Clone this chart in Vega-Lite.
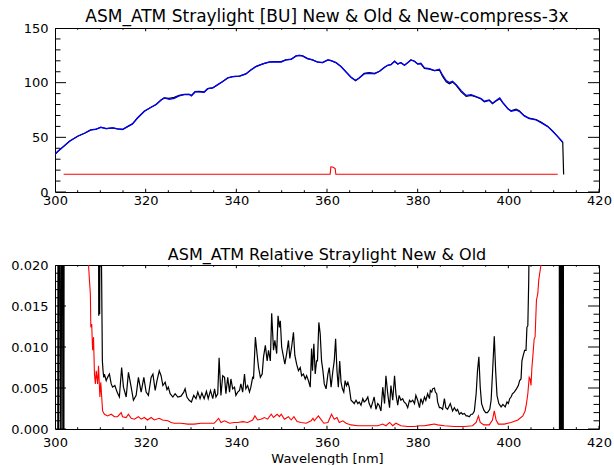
{
 "$schema": "https://vega.github.io/schema/vega-lite/v6.json",
 "background": "white",
 "padding": {"left": 10, "top": 7, "right": 5, "bottom": 0},
 "bounds": "flush",
 "spacing": 73,
 "config": {
  "view": {"stroke": "#000", "strokeWidth": 1},
  "font": "DejaVu Sans",
  "title": {"font": "DejaVu Sans", "fontSize": 16, "fontWeight": "normal", "color": "#000", "offset": -3.7},
  "axis": {"domain": false, "grid": false, "ticks": false, "tickSize": 0, "labelFont": "DejaVu Sans", "labelFontSize": 13, "labelColor": "#000", "labelOverlap": false, "labelFlush": false, "labelBound": false, "titleFont": "DejaVu Sans", "titleFontSize": 13, "titleFontWeight": "normal", "titleColor": "#000"}
 },
 "datasets": {
  "topTicks": [
   {"k":"xmaj","wl":300,"v":0},{"k":"xmaj","wl":320,"v":0},{"k":"xmaj","wl":340,"v":0},{"k":"xmaj","wl":360,"v":0},{"k":"xmaj","wl":380,"v":0},{"k":"xmaj","wl":400,"v":0},{"k":"xmaj","wl":420,"v":0},
   {"k":"xmaj","wl":300,"v":150},{"k":"xmaj","wl":320,"v":150},{"k":"xmaj","wl":340,"v":150},{"k":"xmaj","wl":360,"v":150},{"k":"xmaj","wl":380,"v":150},{"k":"xmaj","wl":400,"v":150},{"k":"xmaj","wl":420,"v":150},
   {"k":"xmin","wl":305,"v":0},{"k":"xmin","wl":310,"v":0},{"k":"xmin","wl":315,"v":0},{"k":"xmin","wl":325,"v":0},{"k":"xmin","wl":330,"v":0},{"k":"xmin","wl":335,"v":0},{"k":"xmin","wl":345,"v":0},{"k":"xmin","wl":350,"v":0},{"k":"xmin","wl":355,"v":0},{"k":"xmin","wl":365,"v":0},{"k":"xmin","wl":370,"v":0},{"k":"xmin","wl":375,"v":0},{"k":"xmin","wl":385,"v":0},{"k":"xmin","wl":390,"v":0},{"k":"xmin","wl":395,"v":0},{"k":"xmin","wl":405,"v":0},{"k":"xmin","wl":410,"v":0},{"k":"xmin","wl":415,"v":0},
   {"k":"xmin","wl":305,"v":150},{"k":"xmin","wl":310,"v":150},{"k":"xmin","wl":315,"v":150},{"k":"xmin","wl":325,"v":150},{"k":"xmin","wl":330,"v":150},{"k":"xmin","wl":335,"v":150},{"k":"xmin","wl":345,"v":150},{"k":"xmin","wl":350,"v":150},{"k":"xmin","wl":355,"v":150},{"k":"xmin","wl":365,"v":150},{"k":"xmin","wl":370,"v":150},{"k":"xmin","wl":375,"v":150},{"k":"xmin","wl":385,"v":150},{"k":"xmin","wl":390,"v":150},{"k":"xmin","wl":395,"v":150},{"k":"xmin","wl":405,"v":150},{"k":"xmin","wl":410,"v":150},{"k":"xmin","wl":415,"v":150},
   {"k":"ymaj","wl":300,"v":0},{"k":"ymaj","wl":300,"v":50},{"k":"ymaj","wl":300,"v":100},{"k":"ymaj","wl":300,"v":150},
   {"k":"ymaj","wl":420,"v":0},{"k":"ymaj","wl":420,"v":50},{"k":"ymaj","wl":420,"v":100},{"k":"ymaj","wl":420,"v":150},
   {"k":"ymin","wl":300,"v":10},{"k":"ymin","wl":300,"v":20},{"k":"ymin","wl":300,"v":30},{"k":"ymin","wl":300,"v":40},{"k":"ymin","wl":300,"v":60},{"k":"ymin","wl":300,"v":70},{"k":"ymin","wl":300,"v":80},{"k":"ymin","wl":300,"v":90},{"k":"ymin","wl":300,"v":110},{"k":"ymin","wl":300,"v":120},{"k":"ymin","wl":300,"v":130},{"k":"ymin","wl":300,"v":140},
   {"k":"ymin","wl":420,"v":10},{"k":"ymin","wl":420,"v":20},{"k":"ymin","wl":420,"v":30},{"k":"ymin","wl":420,"v":40},{"k":"ymin","wl":420,"v":60},{"k":"ymin","wl":420,"v":70},{"k":"ymin","wl":420,"v":80},{"k":"ymin","wl":420,"v":90},{"k":"ymin","wl":420,"v":110},{"k":"ymin","wl":420,"v":120},{"k":"ymin","wl":420,"v":130},{"k":"ymin","wl":420,"v":140}
  ],
  "botTicks": [
   {"k":"xmaj","wl":300,"v":0},{"k":"xmaj","wl":320,"v":0},{"k":"xmaj","wl":340,"v":0},{"k":"xmaj","wl":360,"v":0},{"k":"xmaj","wl":380,"v":0},{"k":"xmaj","wl":400,"v":0},{"k":"xmaj","wl":420,"v":0},
   {"k":"xmaj","wl":300,"v":0.02},{"k":"xmaj","wl":320,"v":0.02},{"k":"xmaj","wl":340,"v":0.02},{"k":"xmaj","wl":360,"v":0.02},{"k":"xmaj","wl":380,"v":0.02},{"k":"xmaj","wl":400,"v":0.02},{"k":"xmaj","wl":420,"v":0.02},
   {"k":"xmin","wl":305,"v":0},{"k":"xmin","wl":310,"v":0},{"k":"xmin","wl":315,"v":0},{"k":"xmin","wl":325,"v":0},{"k":"xmin","wl":330,"v":0},{"k":"xmin","wl":335,"v":0},{"k":"xmin","wl":345,"v":0},{"k":"xmin","wl":350,"v":0},{"k":"xmin","wl":355,"v":0},{"k":"xmin","wl":365,"v":0},{"k":"xmin","wl":370,"v":0},{"k":"xmin","wl":375,"v":0},{"k":"xmin","wl":385,"v":0},{"k":"xmin","wl":390,"v":0},{"k":"xmin","wl":395,"v":0},{"k":"xmin","wl":405,"v":0},{"k":"xmin","wl":410,"v":0},{"k":"xmin","wl":415,"v":0},
   {"k":"xmin","wl":305,"v":0.02},{"k":"xmin","wl":310,"v":0.02},{"k":"xmin","wl":315,"v":0.02},{"k":"xmin","wl":325,"v":0.02},{"k":"xmin","wl":330,"v":0.02},{"k":"xmin","wl":335,"v":0.02},{"k":"xmin","wl":345,"v":0.02},{"k":"xmin","wl":350,"v":0.02},{"k":"xmin","wl":355,"v":0.02},{"k":"xmin","wl":365,"v":0.02},{"k":"xmin","wl":370,"v":0.02},{"k":"xmin","wl":375,"v":0.02},{"k":"xmin","wl":385,"v":0.02},{"k":"xmin","wl":390,"v":0.02},{"k":"xmin","wl":395,"v":0.02},{"k":"xmin","wl":405,"v":0.02},{"k":"xmin","wl":410,"v":0.02},{"k":"xmin","wl":415,"v":0.02},
   {"k":"ymaj","wl":300,"v":0},{"k":"ymaj","wl":300,"v":0.005},{"k":"ymaj","wl":300,"v":0.01},{"k":"ymaj","wl":300,"v":0.015},{"k":"ymaj","wl":300,"v":0.02},
   {"k":"ymaj","wl":420,"v":0},{"k":"ymaj","wl":420,"v":0.005},{"k":"ymaj","wl":420,"v":0.01},{"k":"ymaj","wl":420,"v":0.015},{"k":"ymaj","wl":420,"v":0.02},
   {"k":"ymin","wl":300,"v":0.001},{"k":"ymin","wl":300,"v":0.002},{"k":"ymin","wl":300,"v":0.003},{"k":"ymin","wl":300,"v":0.004},{"k":"ymin","wl":300,"v":0.006},{"k":"ymin","wl":300,"v":0.007},{"k":"ymin","wl":300,"v":0.008},{"k":"ymin","wl":300,"v":0.009},{"k":"ymin","wl":300,"v":0.011},{"k":"ymin","wl":300,"v":0.012},{"k":"ymin","wl":300,"v":0.013},{"k":"ymin","wl":300,"v":0.014},{"k":"ymin","wl":300,"v":0.016},{"k":"ymin","wl":300,"v":0.017},{"k":"ymin","wl":300,"v":0.018},{"k":"ymin","wl":300,"v":0.019},
   {"k":"ymin","wl":420,"v":0.001},{"k":"ymin","wl":420,"v":0.002},{"k":"ymin","wl":420,"v":0.003},{"k":"ymin","wl":420,"v":0.004},{"k":"ymin","wl":420,"v":0.006},{"k":"ymin","wl":420,"v":0.007},{"k":"ymin","wl":420,"v":0.008},{"k":"ymin","wl":420,"v":0.009},{"k":"ymin","wl":420,"v":0.011},{"k":"ymin","wl":420,"v":0.012},{"k":"ymin","wl":420,"v":0.013},{"k":"ymin","wl":420,"v":0.014},{"k":"ymin","wl":420,"v":0.016},{"k":"ymin","wl":420,"v":0.017},{"k":"ymin","wl":420,"v":0.018},{"k":"ymin","wl":420,"v":0.019}
  ],
  "topBlue": [
   {"wl":300,"v":34.5},{"wl":300.6,"v":37},{"wl":301.7,"v":41},{"wl":303.2,"v":46.4},{"wl":305,"v":51},{"wl":306.5,"v":53.7},{"wl":307.9,"v":56.8},{"wl":309,"v":57.4},{"wl":310.1,"v":59.2},{"wl":311.3,"v":58},{"wl":312.7,"v":58.6},{"wl":313.8,"v":57.7},{"wl":314.9,"v":57.2},{"wl":316,"v":59.8},{"wl":317.1,"v":62.3},{"wl":318.2,"v":67.7},{"wl":319.7,"v":73.8},{"wl":321.2,"v":77.5},{"wl":322.3,"v":80},{"wl":323.4,"v":84.2},{"wl":324.1,"v":86},{"wl":325.2,"v":84.8},{"wl":326.3,"v":85.6},{"wl":327.4,"v":87.9},{"wl":328.5,"v":89},{"wl":329.6,"v":89.2},{"wl":330.1,"v":87.9},{"wl":330.9,"v":91.5},{"wl":331.8,"v":91.5},{"wl":332.9,"v":91.2},{"wl":333.7,"v":94.5},{"wl":334.8,"v":95.2},{"wl":335.9,"v":98.2},{"wl":337,"v":101},{"wl":338.1,"v":104.3},{"wl":339.2,"v":105.5},{"wl":340.7,"v":106},{"wl":342.1,"v":108},{"wl":343.2,"v":111.6},{"wl":344.3,"v":114.7},{"wl":345.4,"v":116.5},{"wl":346.2,"v":117.7},{"wl":347.3,"v":118.9},{"wl":348.4,"v":118.9},{"wl":349.9,"v":118.9},{"wl":350.9,"v":120.8},{"wl":352.1,"v":121.4},{"wl":353.2,"v":124.5},{"wl":353.9,"v":125},{"wl":354.6,"v":124.5},{"wl":355.7,"v":122},{"wl":356.8,"v":120.8},{"wl":357.9,"v":118.9},{"wl":359,"v":118.3},{"wl":360.2,"v":120.8},{"wl":360.9,"v":120.2},{"wl":362,"v":118.3},{"wl":363.1,"v":114.7},{"wl":364.2,"v":109.8},{"wl":365.3,"v":104.9},{"wl":366.3,"v":101.9},{"wl":367.1,"v":104.3},{"wl":368.2,"v":108},{"wl":369.3,"v":108.6},{"wl":370.5,"v":108},{"wl":371.6,"v":110.4},{"wl":372.7,"v":114.1},{"wl":373.4,"v":115.9},{"wl":374.1,"v":116.5},{"wl":374.9,"v":119.6},{"wl":375.6,"v":117.1},{"wl":376.3,"v":118.3},{"wl":377.1,"v":115.9},{"wl":377.8,"v":118.3},{"wl":378.5,"v":120.8},{"wl":379.3,"v":119.6},{"wl":380,"v":117.1},{"wl":380.7,"v":117.7},{"wl":381.5,"v":113.5},{"wl":382.6,"v":112.9},{"wl":383.7,"v":111},{"wl":384.8,"v":112.3},{"wl":385.5,"v":106.8},{"wl":386.3,"v":101.9},{"wl":387,"v":100},{"wl":387.7,"v":101.2},{"wl":388.5,"v":98.2},{"wl":389.6,"v":92.7},{"wl":390.7,"v":88.4},{"wl":391.8,"v":89},{"wl":392.9,"v":87.3},{"wl":394,"v":85.4},{"wl":394.7,"v":83},{"wl":395.8,"v":84.2},{"wl":396.5,"v":81.2},{"wl":397.3,"v":83.6},{"wl":398.1,"v":86},{"wl":398.8,"v":81.8},{"wl":399.9,"v":76.3},{"wl":400.6,"v":73.8},{"wl":401.7,"v":75},{"wl":402.4,"v":73.8},{"wl":403.5,"v":69.6},{"wl":404.6,"v":67.1},{"wl":406.1,"v":65.9},{"wl":407.2,"v":63.5},{"wl":408.7,"v":59.8},{"wl":409.8,"v":55.5},{"wl":410.9,"v":50.7},{"wl":412,"v":45.5}
  ],
  "topBlack": [
   {"wl":300,"v":34.5},{"wl":300.6,"v":37},{"wl":301.7,"v":41},{"wl":303.2,"v":46.4},{"wl":305,"v":51},{"wl":306.5,"v":53.7},{"wl":307.9,"v":56.8},{"wl":309,"v":57.4},{"wl":310.1,"v":59.2},{"wl":311.3,"v":58},{"wl":312.7,"v":58.6},{"wl":313.8,"v":57.7},{"wl":314.9,"v":57.2},{"wl":316,"v":59.8},{"wl":317.1,"v":62.3},{"wl":318.2,"v":67.7},{"wl":319.7,"v":73.8},{"wl":321.2,"v":77.5},{"wl":322.3,"v":80},{"wl":323.4,"v":84.2},{"wl":324.1,"v":86},{"wl":325.2,"v":85.6},{"wl":326.3,"v":86.5},{"wl":327.4,"v":88.4},{"wl":328.5,"v":89.3},{"wl":329.6,"v":89.4},{"wl":330.1,"v":88.3},{"wl":330.9,"v":91.8},{"wl":331.8,"v":92},{"wl":332.9,"v":91.6},{"wl":333.7,"v":94.5},{"wl":334.8,"v":95.2},{"wl":335.9,"v":98.2},{"wl":337,"v":101},{"wl":338.1,"v":104.3},{"wl":339.2,"v":105.5},{"wl":340.7,"v":106},{"wl":342.1,"v":108},{"wl":343.2,"v":111.6},{"wl":344.3,"v":114.7},{"wl":345.4,"v":116.5},{"wl":346.2,"v":117.7},{"wl":347.3,"v":118.9},{"wl":348.4,"v":119.2},{"wl":349.9,"v":119.2},{"wl":350.9,"v":120.8},{"wl":352.1,"v":121.4},{"wl":353.2,"v":124.5},{"wl":353.9,"v":125},{"wl":354.6,"v":124.5},{"wl":355.7,"v":122},{"wl":356.8,"v":120.8},{"wl":357.9,"v":118.9},{"wl":359,"v":118.3},{"wl":360.2,"v":120.8},{"wl":360.9,"v":120.2},{"wl":362,"v":118.3},{"wl":363.1,"v":114.7},{"wl":364.2,"v":109.8},{"wl":365.3,"v":104.9},{"wl":366.3,"v":101.9},{"wl":367.1,"v":104.3},{"wl":368.2,"v":108.5},{"wl":369.3,"v":109.2},{"wl":370.5,"v":108.5},{"wl":371.6,"v":110.4},{"wl":372.7,"v":114.1},{"wl":373.4,"v":115.9},{"wl":374.1,"v":116.5},{"wl":374.9,"v":119.6},{"wl":375.6,"v":117.1},{"wl":376.3,"v":118.3},{"wl":377.1,"v":115.9},{"wl":377.8,"v":118.3},{"wl":378.5,"v":120.8},{"wl":379.3,"v":119.6},{"wl":380,"v":117.1},{"wl":380.7,"v":117.2},{"wl":381.5,"v":113},{"wl":382.6,"v":112.4},{"wl":383.7,"v":111},{"wl":384.8,"v":111.5},{"wl":385.5,"v":105.8},{"wl":386.3,"v":100.8},{"wl":387,"v":99},{"wl":387.7,"v":100.5},{"wl":388.5,"v":97.5},{"wl":389.6,"v":91.5},{"wl":390.7,"v":87.5},{"wl":391.8,"v":88.4},{"wl":392.9,"v":86.9},{"wl":394,"v":85},{"wl":394.7,"v":82.4},{"wl":395.8,"v":83.8},{"wl":396.5,"v":80.8},{"wl":397.3,"v":83.2},{"wl":398.1,"v":85.4},{"wl":398.8,"v":81.5},{"wl":399.9,"v":76},{"wl":400.6,"v":74.2},{"wl":401.7,"v":75.8},{"wl":402.4,"v":74.4},{"wl":403.5,"v":69.9},{"wl":404.6,"v":67.5},{"wl":406.1,"v":66.3},{"wl":407.2,"v":64},{"wl":408.7,"v":60},{"wl":409.8,"v":55.5},{"wl":410.9,"v":50.7},{"wl":412,"v":45.5},{"wl":412.2,"v":16}
  ],
  "topRed": [
   {"wl":301.9,"v":16.2},{"wl":360.7,"v":16.2},{"wl":360.85,"v":23},{"wl":361.2,"v":22.8},{"wl":361.6,"v":22},{"wl":361.8,"v":21.5},{"wl":361.95,"v":16.2},{"wl":410.9,"v":16.2}
  ],
  "botBlack": [
   {"wl":300.6,"v":-0.01},{"wl":300.7,"v":0.05},{"wl":300.8,"v":-0.01},{"wl":301.0,"v":0.05},{"wl":301.3,"v":-0.01},{"wl":301.6,"v":0.05},{"wl":301.75,"v":-0.01},{"wl":301.85,"v":0.05},{"wl":301.95,"v":-0.01},{"wl":302.05,"v":0.05},{"wl":309.5,"v":0.05},{"wl":309.65,"v":0.0138},{"wl":309.75,"v":0.03},{"wl":309.85,"v":0.014},{"wl":309.95,"v":0.03},{"wl":310.1,"v":0.03},{"wl":310.45,"v":0.0083},{"wl":310.6,"v":0.0071},{"wl":310.75,"v":0.0063},{"wl":310.9,"v":0.0067},{"wl":311.3,"v":0.0059},{"wl":311.6,"v":0.0063},{"wl":312.0,"v":0.0067},{"wl":312.4,"v":0.0055},{"wl":312.7,"v":0.0051},{"wl":313.2,"v":0.0053},{"wl":313.7,"v":0.0045},{"wl":314.2,"v":0.0039},{"wl":314.7,"v":0.0075},{"wl":315.1,"v":0.0051},{"wl":315.7,"v":0.0039},{"wl":316.2,"v":0.0069},{"wl":316.8,"v":0.0051},{"wl":317.3,"v":0.0035},{"wl":317.9,"v":0.0041},{"wl":318.4,"v":0.0063},{"wl":319.0,"v":0.0045},{"wl":319.6,"v":0.0063},{"wl":320.1,"v":0.0045},{"wl":320.6,"v":0.0041},{"wl":321.2,"v":0.0063},{"wl":321.6,"v":0.0067},{"wl":322.1,"v":0.0047},{"wl":322.5,"v":0.0059},{"wl":323.0,"v":0.0071},{"wl":323.4,"v":0.0065},{"wl":323.8,"v":0.0053},{"wl":324.3,"v":0.0057},{"wl":324.7,"v":0.0048},{"wl":325.0,"v":0.0051},{"wl":325.4,"v":0.0043},{"wl":326.0,"v":0.0039},{"wl":326.5,"v":0.0043},{"wl":327.1,"v":0.0039},{"wl":327.8,"v":0.004},{"wl":328.4,"v":0.0045},{"wl":328.7,"v":0.0049},{"wl":329.1,"v":0.0039},{"wl":329.6,"v":0.0035},{"wl":330.1,"v":0.0033},{"wl":330.6,"v":0.0041},{"wl":331.1,"v":0.0037},{"wl":331.5,"v":0.0045},{"wl":332.0,"v":0.0037},{"wl":332.4,"v":0.0044},{"wl":332.9,"v":0.0037},{"wl":333.4,"v":0.0046},{"wl":333.8,"v":0.0037},{"wl":334.3,"v":0.0047},{"wl":334.8,"v":0.0037},{"wl":335.2,"v":0.0049},{"wl":335.5,"v":0.0039},{"wl":335.9,"v":0.0043},{"wl":336.2,"v":0.0087},{"wl":336.6,"v":0.0041},{"wl":337.0,"v":0.0065},{"wl":337.4,"v":0.0063},{"wl":337.7,"v":0.0043},{"wl":338.1,"v":0.0063},{"wl":338.5,"v":0.0045},{"wl":338.8,"v":0.0061},{"wl":339.2,"v":0.0049},{"wl":339.6,"v":0.0051},{"wl":339.9,"v":0.0041},{"wl":340.3,"v":0.0045},{"wl":340.7,"v":0.0047},{"wl":341.0,"v":0.0055},{"wl":341.4,"v":0.0045},{"wl":341.8,"v":0.0067},{"wl":342.1,"v":0.0049},{"wl":342.5,"v":0.0053},{"wl":342.9,"v":0.0045},{"wl":343.2,"v":0.0051},{"wl":343.6,"v":0.0063},{"wl":343.8,"v":0.0062},{"wl":344.2,"v":0.0112},{"wl":344.6,"v":0.009},{"wl":344.9,"v":0.0075},{"wl":345.3,"v":0.0063},{"wl":345.7,"v":0.0067},{"wl":346.0,"v":0.0088},{"wl":346.4,"v":0.0102},{"wl":346.8,"v":0.0083},{"wl":347.1,"v":0.0096},{"wl":347.5,"v":0.0083},{"wl":347.8,"v":0.0141},{"wl":348.2,"v":0.0096},{"wl":348.5,"v":0.0108},{"wl":348.9,"v":0.0092},{"wl":349.2,"v":0.0138},{"wl":349.5,"v":0.0124},{"wl":349.7,"v":0.0132},{"wl":350.0,"v":0.01},{"wl":350.4,"v":0.0088},{"wl":350.7,"v":0.0079},{"wl":351.1,"v":0.0092},{"wl":351.5,"v":0.0108},{"wl":351.8,"v":0.0086},{"wl":352.2,"v":0.01},{"wl":352.6,"v":0.0118},{"wl":352.9,"v":0.009},{"wl":353.3,"v":0.0079},{"wl":353.7,"v":0.0071},{"wl":354.1,"v":0.0075},{"wl":354.4,"v":0.0065},{"wl":354.8,"v":0.0067},{"wl":355.2,"v":0.0061},{"wl":355.5,"v":0.0065},{"wl":355.9,"v":0.0059},{"wl":356.3,"v":0.0051},{"wl":356.6,"v":0.0098},{"wl":356.8,"v":0.0071},{"wl":357.1,"v":0.0104},{"wl":357.4,"v":0.0067},{"wl":357.7,"v":0.0083},{"wl":357.9,"v":0.0083},{"wl":358.2,"v":0.013},{"wl":358.5,"v":0.0116},{"wl":358.8,"v":0.0083},{"wl":359.1,"v":0.0071},{"wl":359.4,"v":0.0055},{"wl":359.8,"v":0.0049},{"wl":360.2,"v":0.0067},{"wl":360.5,"v":0.0075},{"wl":360.9,"v":0.0051},{"wl":361.3,"v":0.0071},{"wl":361.6,"v":0.0083},{"wl":361.9,"v":0.011},{"wl":362.2,"v":0.0071},{"wl":362.5,"v":0.0051},{"wl":362.8,"v":0.0083},{"wl":363.1,"v":0.0057},{"wl":363.4,"v":0.0049},{"wl":363.7,"v":0.0045},{"wl":364.0,"v":0.0059},{"wl":364.3,"v":0.0053},{"wl":364.6,"v":0.0057},{"wl":364.9,"v":0.0051},{"wl":365.3,"v":0.0035},{"wl":365.7,"v":0.0033},{"wl":366.0,"v":0.0031},{"wl":366.4,"v":0.0035},{"wl":366.8,"v":0.0031},{"wl":367.1,"v":0.0033},{"wl":367.5,"v":0.0029},{"wl":367.9,"v":0.0037},{"wl":368.2,"v":0.0033},{"wl":368.6,"v":0.0035},{"wl":369.0,"v":0.0039},{"wl":369.3,"v":0.0031},{"wl":369.7,"v":0.0026},{"wl":370.1,"v":0.0033},{"wl":370.4,"v":0.0039},{"wl":370.8,"v":0.0024},{"wl":371.2,"v":0.0031},{"wl":371.5,"v":0.0029},{"wl":371.9,"v":0.0022},{"wl":372.3,"v":0.0051},{"wl":372.7,"v":0.0031},{"wl":373.0,"v":0.0065},{"wl":373.4,"v":0.0043},{"wl":373.8,"v":0.0026},{"wl":374.1,"v":0.0053},{"wl":374.5,"v":0.0035},{"wl":374.9,"v":0.0065},{"wl":375.2,"v":0.0043},{"wl":375.6,"v":0.0029},{"wl":375.9,"v":0.0041},{"wl":376.3,"v":0.0035},{"wl":376.7,"v":0.0037},{"wl":377.0,"v":0.0033},{"wl":377.4,"v":0.0031},{"wl":377.8,"v":0.0026},{"wl":378.2,"v":0.0035},{"wl":378.5,"v":0.0033},{"wl":378.9,"v":0.0035},{"wl":379.3,"v":0.0031},{"wl":379.6,"v":0.0041},{"wl":380.0,"v":0.0035},{"wl":380.4,"v":0.0026},{"wl":380.7,"v":0.0037},{"wl":381.1,"v":0.0031},{"wl":381.5,"v":0.0039},{"wl":381.8,"v":0.0035},{"wl":382.2,"v":0.0043},{"wl":382.6,"v":0.0037},{"wl":382.8,"v":0.0047},{"wl":383.1,"v":0.0045},{"wl":383.3,"v":0.0049},{"wl":383.7,"v":0.005},{"wl":383.9,"v":0.0045},{"wl":384.2,"v":0.0043},{"wl":384.4,"v":0.0033},{"wl":384.8,"v":0.0026},{"wl":385.1,"v":0.0026},{"wl":385.5,"v":0.0024},{"wl":385.9,"v":0.0037},{"wl":386.2,"v":0.0026},{"wl":386.6,"v":0.0024},{"wl":387.2,"v":0.0031},{"wl":387.7,"v":0.0022},{"wl":388.1,"v":0.0026},{"wl":388.5,"v":0.0022},{"wl":388.8,"v":0.0024},{"wl":389.2,"v":0.0018},{"wl":389.6,"v":0.002},{"wl":389.9,"v":0.0018},{"wl":390.3,"v":0.0019},{"wl":390.7,"v":0.0016},{"wl":391.0,"v":0.0016},{"wl":391.4,"v":0.0015},{"wl":391.8,"v":0.0018},{"wl":392.1,"v":0.0018},{"wl":392.5,"v":0.0022},{"wl":392.9,"v":0.0043},{"wl":393.2,"v":0.0071},{"wl":393.5,"v":0.0088},{"wl":393.8,"v":0.0051},{"wl":394.1,"v":0.0031},{"wl":394.6,"v":0.0023},{"wl":395.0,"v":0.002},{"wl":395.4,"v":0.002},{"wl":395.9,"v":0.0024},{"wl":396.2,"v":0.0035},{"wl":396.5,"v":0.0067},{"wl":396.9,"v":0.0113},{"wl":397.2,"v":0.0071},{"wl":397.5,"v":0.0041},{"wl":397.9,"v":0.0031},{"wl":398.4,"v":0.0027},{"wl":398.8,"v":0.003},{"wl":399.3,"v":0.0027},{"wl":399.7,"v":0.0033},{"wl":400.0,"v":0.0031},{"wl":400.3,"v":0.0037},{"wl":400.6,"v":0.0039},{"wl":400.9,"v":0.0043},{"wl":401.3,"v":0.0045},{"wl":401.8,"v":0.0049},{"wl":402.2,"v":0.0053},{"wl":402.5,"v":0.0059},{"wl":402.8,"v":0.0061},{"wl":403.0,"v":0.0083},{"wl":403.3,"v":0.009},{"wl":403.6,"v":0.0096},{"wl":403.9,"v":0.0096},{"wl":404.1,"v":0.0124},{"wl":404.3,"v":0.0126},{"wl":404.5,"v":0.0181},{"wl":404.7,"v":0.03},{"wl":411.2,"v":0.05},{"wl":411.3,"v":-0.01},{"wl":411.4,"v":0.05},{"wl":411.5,"v":-0.01},{"wl":411.6,"v":0.05},{"wl":411.7,"v":-0.01},{"wl":411.8,"v":0.05},{"wl":411.9,"v":-0.01},{"wl":412.0,"v":0.05},{"wl":412.1,"v":-0.01},{"wl":412.2,"v":0.05}
  ],
  "botRed": [
   {"wl":307.3,"v":0.025},{"wl":307.4,"v":0.02},{"wl":307.6,"v":0.0181},{"wl":307.8,"v":0.0165},{"wl":307.9,"v":0.0124},{"wl":308.1,"v":0.0128},{"wl":308.2,"v":0.011},{"wl":308.3,"v":0.0096},{"wl":308.5,"v":0.0112},{"wl":308.7,"v":0.0067},{"wl":308.9,"v":0.0055},{"wl":309.1,"v":0.0071},{"wl":309.4,"v":0.0055},{"wl":309.6,"v":0.0077},{"wl":309.9,"v":0.0039},{"wl":310.1,"v":0.0057},{"wl":310.3,"v":0.0039},{"wl":310.5,"v":0.0022},{"wl":310.9,"v":0.0018},{"wl":311.6,"v":0.0016},{"wl":312.4,"v":0.0018},{"wl":313.1,"v":0.0015},{"wl":313.8,"v":0.0015},{"wl":314.6,"v":0.002},{"wl":314.9,"v":0.0015},{"wl":315.7,"v":0.0014},{"wl":316.2,"v":0.0018},{"wl":316.8,"v":0.0013},{"wl":317.5,"v":0.0012},{"wl":318.4,"v":0.0015},{"wl":319.0,"v":0.0012},{"wl":319.7,"v":0.0014},{"wl":320.4,"v":0.0011},{"wl":321.2,"v":0.0014},{"wl":321.9,"v":0.0011},{"wl":323.0,"v":0.0013},{"wl":323.7,"v":0.0011},{"wl":324.9,"v":0.001},{"wl":325.6,"v":0.0008},{"wl":326.3,"v":0.0007},{"wl":327.8,"v":0.0007},{"wl":329.3,"v":0.0006},{"wl":330.7,"v":0.0006},{"wl":332.2,"v":0.0007},{"wl":333.7,"v":0.0007},{"wl":335.1,"v":0.0007},{"wl":336.1,"v":0.0013},{"wl":336.6,"v":0.0008},{"wl":337.4,"v":0.001},{"wl":338.5,"v":0.0007},{"wl":339.6,"v":0.0008},{"wl":340.3,"v":0.0008},{"wl":341.4,"v":0.0009},{"wl":342.5,"v":0.0008},{"wl":343.6,"v":0.0011},{"wl":344.1,"v":0.0016},{"wl":344.7,"v":0.0011},{"wl":345.4,"v":0.0012},{"wl":346.2,"v":0.0014},{"wl":346.9,"v":0.0012},{"wl":347.7,"v":0.0018},{"wl":348.2,"v":0.0014},{"wl":349.0,"v":0.0018},{"wl":349.5,"v":0.0015},{"wl":349.9,"v":0.0018},{"wl":350.6,"v":0.0012},{"wl":351.5,"v":0.0015},{"wl":352.1,"v":0.0011},{"wl":352.7,"v":0.0015},{"wl":353.4,"v":0.0009},{"wl":354.3,"v":0.0008},{"wl":355.4,"v":0.0007},{"wl":356.5,"v":0.001},{"wl":356.9,"v":0.0013},{"wl":357.2,"v":0.001},{"wl":358.1,"v":0.0016},{"wl":358.5,"v":0.0013},{"wl":359.3,"v":0.0007},{"wl":360.2,"v":0.0008},{"wl":361.0,"v":0.0018},{"wl":361.6,"v":0.0012},{"wl":362.2,"v":0.0014},{"wl":362.7,"v":0.0008},{"wl":363.5,"v":0.001},{"wl":364.2,"v":0.0007},{"wl":365.3,"v":0.0005},{"wl":366.8,"v":0.0004},{"wl":368.2,"v":0.0004},{"wl":369.7,"v":0.0004},{"wl":371.2,"v":0.0004},{"wl":372.3,"v":0.0006},{"wl":373.0,"v":0.0004},{"wl":373.8,"v":0.0008},{"wl":374.5,"v":0.0004},{"wl":375.2,"v":0.0007},{"wl":376.3,"v":0.0004},{"wl":377.8,"v":0.0003},{"wl":379.3,"v":0.0003},{"wl":380.4,"v":0.0004},{"wl":381.5,"v":0.0004},{"wl":382.6,"v":0.0005},{"wl":383.7,"v":0.0006},{"wl":384.4,"v":0.0005},{"wl":385.9,"v":0.0004},{"wl":388.1,"v":0.0003},{"wl":390.3,"v":0.0003},{"wl":392.1,"v":0.0004},{"wl":392.9,"v":0.0008},{"wl":393.4,"v":0.0016},{"wl":393.8,"v":0.0008},{"wl":394.6,"v":0.0005},{"wl":395.8,"v":0.0005},{"wl":396.5,"v":0.0011},{"wl":396.9,"v":0.0022},{"wl":397.3,"v":0.0011},{"wl":397.8,"v":0.0006},{"wl":399.1,"v":0.0006},{"wl":400.6,"v":0.0008},{"wl":402.1,"v":0.0011},{"wl":403.2,"v":0.0016},{"wl":403.7,"v":0.0022},{"wl":404.0,"v":0.0031},{"wl":404.3,"v":0.0043},{"wl":404.6,"v":0.0063},{"wl":404.8,"v":0.0061},{"wl":405.0,"v":0.0053},{"wl":405.2,"v":0.0075},{"wl":405.4,"v":0.0088},{"wl":405.7,"v":0.011},{"wl":405.9,"v":0.0112},{"wl":406.2,"v":0.0157},{"wl":406.5,"v":0.0165},{"wl":406.7,"v":0.0181},{"wl":406.9,"v":0.0189},{"wl":407.2,"v":0.02},{"wl":407.4,"v":0.025}
  ]
 },
 "vconcat": [
  {
   "width": 544,
   "height": 164,
   "title": {"text": "ASM_ATM Straylight [BU] New & Old & New-compress-3x", "fontSize": 17},
   "layer": [
    {
     "data": {"name": "topBlack"},
     "mark": {"type": "line", "color": "#000000", "strokeWidth": 1.2, "clip": true},
     "encoding": {
      "x": {"field": "wl", "type": "quantitative", "scale": {"domain": [300, 420], "nice": false, "zero": false},
            "axis": {"orient": "bottom", "values": [300,320,340,360,380,400,420], "labelPadding": 2, "title": null}},
      "y": {"field": "v", "type": "quantitative", "scale": {"domain": [0, 150], "nice": false, "zero": false},
            "axis": {"orient": "left", "values": [0,50,100,150], "labelPadding": 7, "title": null}}
     }
    },
    {
     "data": {"name": "topBlue"},
     "mark": {"type": "line", "color": "#0000ff", "strokeWidth": 1.3, "clip": true},
     "encoding": {
      "x": {"field": "wl", "type": "quantitative"},
      "y": {"field": "v", "type": "quantitative"}
     }
    },
    {
     "data": {"name": "topRed"},
     "mark": {"type": "line", "color": "#ff0000", "strokeWidth": 1.1, "clip": true},
     "encoding": {
      "x": {"field": "wl", "type": "quantitative"},
      "y": {"field": "v", "type": "quantitative"}
     }
    },
    {
     "data": {"name": "topTicks"},
     "transform": [{"filter": "datum.k === 'xmaj'"}],
     "mark": {"type": "tick", "orient": "vertical", "size": 6.6, "thickness": 1, "color": "#000", "opacity": 1, "clip": true},
     "encoding": {"x": {"field": "wl", "type": "quantitative"}, "y": {"field": "v", "type": "quantitative"}}
    },
    {
     "data": {"name": "topTicks"},
     "transform": [{"filter": "datum.k === 'xmin'"}],
     "mark": {"type": "tick", "orient": "vertical", "size": 3.4, "thickness": 1, "color": "#000", "opacity": 1, "clip": true},
     "encoding": {"x": {"field": "wl", "type": "quantitative"}, "y": {"field": "v", "type": "quantitative"}}
    },
    {
     "data": {"name": "topTicks"},
     "transform": [{"filter": "datum.k === 'ymaj'"}],
     "mark": {"type": "tick", "orient": "horizontal", "size": 22, "thickness": 1, "color": "#000", "opacity": 1, "clip": true},
     "encoding": {"x": {"field": "wl", "type": "quantitative"}, "y": {"field": "v", "type": "quantitative"}}
    },
    {
     "data": {"name": "topTicks"},
     "transform": [{"filter": "datum.k === 'ymin'"}],
     "mark": {"type": "tick", "orient": "horizontal", "size": 11, "thickness": 1, "color": "#000", "opacity": 1, "clip": true},
     "encoding": {"x": {"field": "wl", "type": "quantitative"}, "y": {"field": "v", "type": "quantitative"}}
    }
   ]
  },
  {
   "width": 544,
   "height": 164,
   "title": {"text": "ASM_ATM Relative Straylight New & Old", "fontSize": 16},
   "layer": [
    {
     "data": {"name": "botRed"},
     "mark": {"type": "line", "color": "#ff0000", "strokeWidth": 1.1, "clip": true},
     "encoding": {
      "x": {"field": "wl", "type": "quantitative", "scale": {"domain": [300, 420], "nice": false, "zero": false},
            "axis": {"orient": "bottom", "values": [300,320,340,360,380,400,420], "labelPadding": 7, "title": "Wavelength [nm]", "titlePadding": 3}},
      "y": {"field": "v", "type": "quantitative", "scale": {"domain": [0, 0.02], "nice": false, "zero": false},
            "axis": {"orient": "left", "values": [0,0.005,0.01,0.015,0.02], "format": ".3f", "labelPadding": 7, "title": null}}
     }
    },
    {
     "data": {"name": "botBlack"},
     "mark": {"type": "line", "color": "#000000", "strokeWidth": 1.2, "clip": true},
     "encoding": {
      "x": {"field": "wl", "type": "quantitative"},
      "y": {"field": "v", "type": "quantitative"}
     }
    },
    {
     "data": {"name": "botTicks"},
     "transform": [{"filter": "datum.k === 'xmaj'"}],
     "mark": {"type": "tick", "orient": "vertical", "size": 6.6, "thickness": 1, "color": "#000", "opacity": 1, "clip": true},
     "encoding": {"x": {"field": "wl", "type": "quantitative"}, "y": {"field": "v", "type": "quantitative"}}
    },
    {
     "data": {"name": "botTicks"},
     "transform": [{"filter": "datum.k === 'xmin'"}],
     "mark": {"type": "tick", "orient": "vertical", "size": 3.4, "thickness": 1, "color": "#000", "opacity": 1, "clip": true},
     "encoding": {"x": {"field": "wl", "type": "quantitative"}, "y": {"field": "v", "type": "quantitative"}}
    },
    {
     "data": {"name": "botTicks"},
     "transform": [{"filter": "datum.k === 'ymaj'"}],
     "mark": {"type": "tick", "orient": "horizontal", "size": 22, "thickness": 1, "color": "#000", "opacity": 1, "clip": true},
     "encoding": {"x": {"field": "wl", "type": "quantitative"}, "y": {"field": "v", "type": "quantitative"}}
    },
    {
     "data": {"name": "botTicks"},
     "transform": [{"filter": "datum.k === 'ymin'"}],
     "mark": {"type": "tick", "orient": "horizontal", "size": 11, "thickness": 1, "color": "#000", "opacity": 1, "clip": true},
     "encoding": {"x": {"field": "wl", "type": "quantitative"}, "y": {"field": "v", "type": "quantitative"}}
    }
   ]
  }
 ]
}
